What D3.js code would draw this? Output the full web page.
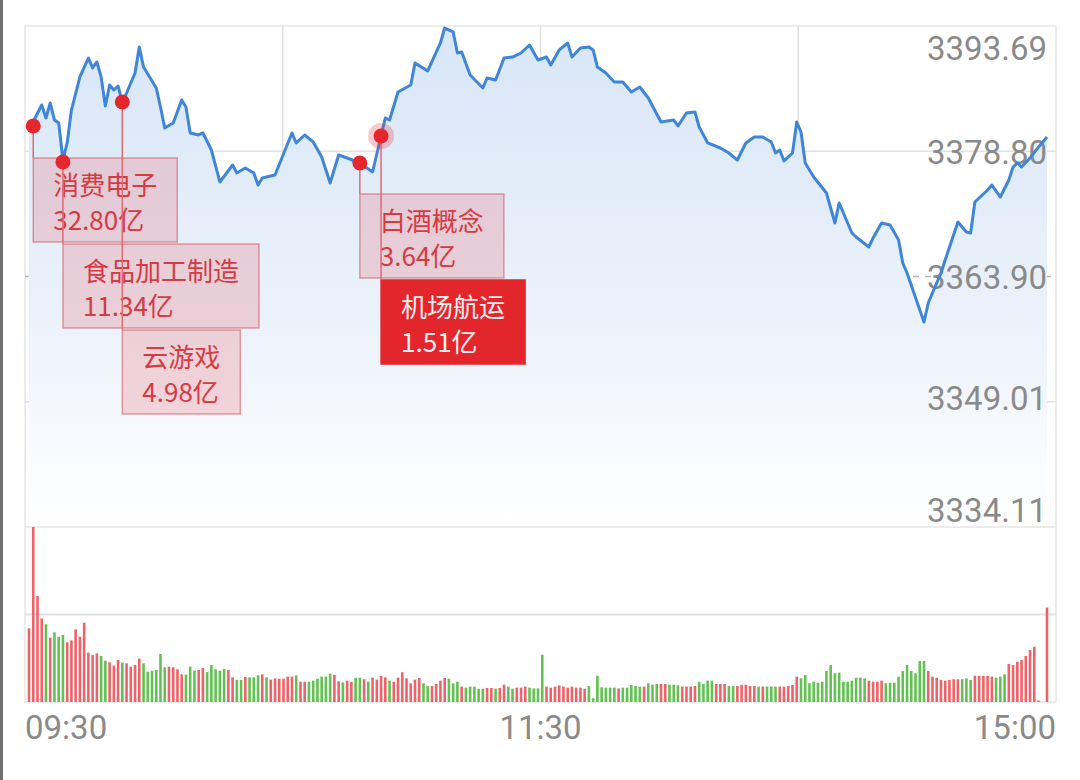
<!DOCTYPE html>
<html>
<head>
<meta charset="utf-8">
<script src="https://cdn.jsdelivr.net/npm/d3@7"></script>
<style>
  html, body { margin: 0; padding: 0; background: #fff; }
  svg { display: block; }
</style>
</head>
<body>
<svg id="chart" width="1080" height="780"></svg>
<script>
// price axis ticks (top -> bottom), middle one is previous close
var priceTicks = [3393.69, 3378.80, 3363.90, 3349.01, 3334.11];
var timeLabels = ['09:30', '11:30', '15:00'];

// minute index (0 = 09:30, 240 = 15:00) and index level
var lineMinutes = [0,3,4,5,6,7,8,9,10,12,14,15,16,17,18,19,20,21,22,23,25,26,27,30,31,32,34,36,37,38,
  40,41,43,45,48,49,51,53,54,55,58,62,63,65,67,69,71,73,75,78,81,83,84,85,87,90,91,94,97,98,
  100,101,102,104,107,108,110,112,114,116,118,120,122,123,125,127,128,130,132,133,134,136,138,140,142,144,146,149,152,153,
  155,157,158,160,163,165,167,169,171,173,175,176,177,178,180,181,182,183,185,188,190,191,192,194,195,198,199,201,203,205,
  206,207,211,212,215,216,219,221,222,223,226,227,229,231,232,233,234,236,238,240];
var linePrices = [3381.32,3384.30,3382.75,3384.53,3382.51,3382.15,3377.75,3379.78,3383.70,3387.63,3389.88,3388.70,3389.41,3387.63,3384.18,3386.67,3386.08,3386.55,3384.65,3385.72,3388.10,3391.19,3388.81,3386.32,3384.06,3381.56,3382.15,3384.89,3384.06,3380.97,
  3380.73,3380.97,3378.94,3375.14,3377.16,3376.21,3376.80,3376.21,3374.78,3375.61,3375.97,3380.97,3379.78,3380.73,3379.90,3378.11,3375.02,3378.35,3377.99,3377.40,3376.33,3380.61,3382.75,3382.51,3385.84,3386.67,3389.29,3388.34,3391.67,3393.45,
  3392.98,3390.48,3390.60,3387.86,3386.32,3387.51,3387.27,3389.88,3390.00,3390.48,3391.43,3389.65,3390.00,3389.05,3390.84,3391.67,3390.00,3391.07,3391.19,3390.84,3388.81,3388.10,3387.03,3387.03,3385.84,3386.44,3385.13,3382.27,3382.51,3381.80,
  3383.34,3383.46,3381.68,3379.78,3379.18,3378.59,3377.75,3379.78,3380.49,3380.49,3379.90,3378.59,3378.94,3377.64,3378.59,3382.27,3381.08,3377.40,3375.73,3373.83,3370.26,3372.64,3371.45,3369.07,3368.60,3367.41,3368.48,3370.26,3370.02,3368.24,
  3365.51,3364.32,3358.49,3360.75,3364.32,3365.86,3370.38,3369.19,3369.07,3372.76,3374.19,3374.78,3373.35,3375.38,3376.92,3377.40,3376.92,3377.99,3379.30,3380.49];

// per-minute volume (relative units) and direction (1 = up/red, 0 = down/green)
var volumes = [
  42.1,100,60.6,47.8,44.4,36.8,39.8,37.3,38.3,34.1,
  35.2,41.5,37.3,45.3,28.2,26.9,27.8,26.3,23.6,22.7,
  20.8,24.0,22.5,22.1,20.2,21.1,24.8,22.1,17.3,17.9,
  18.3,27.4,19.8,20.2,19.8,18.7,15.8,15.6,20.2,17.9,
  18.3,19.4,17.1,21.1,18.7,17.9,18.9,18.3,14.1,12.6,
  12.6,14.3,14.1,14.1,15.2,15.8,14.1,12.8,13.5,13.3,
  13.3,
  14.5,14.5,15.2,11.6,11.6,11.6,12.2,13.3,14.5,14.5,
  16.2,15.6,11.8,11.2,12.2,11.6,13.9,13.9,13.0,11.6,
  13.9,12.8,14.9,14.1,12.2,11.6,13.9,17.0,13.5,10.7,
  12.8,13.7,10.7,9.1,9.1,10.3,12.2,13.7,13.3,10.7,
  11.6,8.8,8.2,8.8,8.8,7.6,7.6,8.0,8.0,7.6,
  8.0,9.9,8.8,7.6,8.2,8.2,8.8,8.2,7.8,7.8,
  27.0,
  8.8,8.2,8.8,9.5,8.8,8.2,8.8,8.2,8.2,
  7.6,9.1,2.1,15.0,8.4,8.2,8.2,8.2,7.8,8.2,
  8.2,9.7,9.1,8.8,8.8,10.7,9.9,10.3,10.3,10.3,
  9.9,9.9,9.5,8.8,8.8,8.8,9.1,11.6,10.3,12.2,
  12.2,10.3,10.3,10.3,9.1,9.1,9.1,9.9,9.9,9.1,
  9.1,8.8,8.8,8.8,8.8,8.8,8.8,8.8,9.1,9.7,
  14.5,
  13.5,15.4,10.7,11.6,11.0,11.6,17.7,21.1,
  16.4,16.8,11.6,11.6,12.2,13.9,13.9,13.5,12.2,11.6,
  11.6,12.2,10.7,11.0,11.0,14.5,17.7,21.1,17.7,16.4,
  23.4,23.4,17.7,14.5,13.9,12.6,12.2,12.6,13.0,13.0,
  13.0,13.5,12.6,15.0,15.0,15.0,15.0,14.5,13.9,14.5,
  15.8,21.7,21.1,23.0,24.0,26.3,29.7,31.6,0.8,0,
  54.0];
var volumeUp = [
  1,1,1,1,0,1,0,0,0,1, 1,1,1,1,1,1,1,0,0,1, 1,1,0,1,1,1,1,0,0,0,
  0,0,0,1,1,1,1,0,0,0, 1,1,0,0,0,0,0,1,1,0, 0,1,0,0,0,1,0,1,1,1,
  1,
  1,1,0,1,1,0,0,0,0,0, 0,1,1,0,1,1,0,0,1,0, 1,1,1,1,0,1,1,1,1,1,
  1,1,0,0,1,1,1,1,0,0, 0,1,0,0,0,0,0,1,1,0, 1,1,0,0,1,1,1,0,0,0,
  0,
  1,1,1,1,1,1,1,1,1,
  1,0,0,0,0,0,0,0,1,0, 0,0,0,0,1,0,0,0,1,1, 0,0,0,1,1,1,1,0,0,0,
  0,1,1,1,0,0,1,1,1,1, 1,0,1,0,0,0,1,1,1,1,
  1,
  0,0,0,0,0,0,0,0,
  0,0,0,0,0,0,0,0,1,1, 1,1,0,0,0,0,0,0,0,0, 0,0,1,1,1,1,1,1,1,1,
  0,0,0,1,1,1,1,1,0,0, 0,1,1,1,1,1,1,1,1,1,
  1];

// sector fund-flow markers
var markerNames = ['消费电子', '食品加工制造', '云游戏', '白酒概念', '机场航运'];
var markerAmounts = ['32.80亿', '11.34亿', '4.98亿', '3.64亿', '1.51亿'];
var markerMinutes = [1, 8, 22, 78, 83];
var markerPrices = [3381.80, 3377.52, 3384.65, 3377.40, 3380.61];

// layout
var frame = { left: 25, right: 1056, top: 26, mid: 527, bottom: 702 };
var markerBoxTop = [158, 244, 330, 194, 280];
var activeMarker = 4;

var svg = d3.select('#chart');

var x = d3.scaleLinear().domain([0, 240]).range([29, 1047]);
var y = d3.scaleLinear().domain([priceTicks[4], priceTicks[0]]).range([frame.mid, frame.top]);
var yVol = d3.scaleLinear().domain([0, 100]).range([frame.bottom, frame.mid]);

// screenshot edge
svg.append('rect').attr('x', 0).attr('y', 0).attr('width', 3).attr('height', 780).attr('fill', '#707070');

var defs = svg.append('defs');
var grad = defs.append('linearGradient')
    .attr('id', 'areaFill')
    .attr('gradientUnits', 'userSpaceOnUse')
    .attr('x1', 0).attr('y1', frame.top).attr('x2', 0).attr('y2', frame.mid);
grad.append('stop').attr('offset', '0%').attr('stop-color', '#d8e6f7');
grad.append('stop').attr('offset', '55%').attr('stop-color', '#eaf1fa');
grad.append('stop').attr('offset', '100%').attr('stop-color', '#ffffff');

// grid
var grid = svg.append('g');
grid.append('rect')
    .attr('x', frame.left).attr('y', frame.top)
    .attr('width', frame.right - frame.left).attr('height', frame.bottom - frame.top)
    .attr('fill', 'none').attr('stroke', '#e6e6e6').attr('stroke-width', 1.5);

var data = d3.zip(lineMinutes, linePrices);

// area under the line
svg.append('path')
    .datum(data)
    .attr('fill', 'url(#areaFill)')
    .attr('d', d3.area()
        .x(function(d) { return x(d[0]); })
        .y0(frame.mid)
        .y1(function(d) { return y(d[1]); }));

priceTicks.forEach(function(t, i) {
    if (i === 0 || i === 4) return;
    grid.append('line')
        .attr('x1', frame.left).attr('x2', frame.right)
        .attr('y1', y(t)).attr('y2', y(t))
        .attr('stroke', i === 2 ? '#b8b8b8' : '#e2e2e2')
        .attr('stroke-width', 1.5)
        .attr('stroke-dasharray', i === 2 ? '6,6' : null);
});
[1, 2, 3].forEach(function(q) {
    var gx = frame.left + (frame.right - frame.left) * q / 4;
    grid.append('line')
        .attr('x1', gx).attr('x2', gx)
        .attr('y1', frame.top).attr('y2', frame.mid)
        .attr('stroke', '#e2e2e2').attr('stroke-width', 1.5);
});
svg.append('line')
    .attr('x1', frame.left).attr('x2', frame.right)
    .attr('y1', frame.mid).attr('y2', frame.mid)
    .attr('stroke', '#e6e6e6').attr('stroke-width', 1.5);
svg.append('line')
    .attr('x1', frame.left).attr('x2', frame.right)
    .attr('y1', yVol(50)).attr('y2', yVol(50))
    .attr('stroke', '#e0e0e0').attr('stroke-width', 2);

// price labels
svg.append('g').selectAll('text')
    .data(priceTicks)
    .enter().append('text')
    .attr('x', 1047)
    .attr('y', function(d, i) {
        var off = i === 0 ? 22 : (i === 4 ? -17 : (i === 3 ? -3 : 1));
        return y(d) + off;
    })
    .attr('dominant-baseline', 'central')
    .attr('text-anchor', 'end')
    .attr('font-family', 'Roboto, "Noto Sans", sans-serif')
    .attr('font-size', 33)
    .attr('fill', '#8a8a8a')
    .text(function(d) { return d.toFixed(2); });

// price line
svg.append('path')
    .datum(data)
    .attr('fill', 'none')
    .attr('stroke', '#3f86d8')
    .attr('stroke-width', 3)
    .attr('stroke-linejoin', 'round')
    .attr('d', d3.line()
        .x(function(d) { return x(d[0]); })
        .y(function(d) { return y(d[1]); }));

// volume bars
svg.append('g').selectAll('rect')
    .data(volumes)
    .enter().append('rect')
    .attr('x', function(d, i) { return x(i) - 1.3; })
    .attr('width', 2.6)
    .attr('y', function(d) { return yVol(d); })
    .attr('height', function(d) { return frame.bottom - yVol(d); })
    .attr('fill', function(d, i) { return volumeUp[i] ? '#ef6368' : '#62c152'; });

// time labels
var timeX = [frame.left, (frame.left + frame.right) / 2, frame.right];
var timeAnchor = ['start', 'middle', 'end'];
svg.append('g').selectAll('text')
    .data(timeLabels)
    .enter().append('text')
    .attr('x', function(d, i) { return timeX[i]; })
    .attr('y', 739)
    .attr('text-anchor', function(d, i) { return timeAnchor[i]; })
    .attr('font-family', 'Roboto, "Noto Sans", sans-serif')
    .attr('font-size', 33)
    .attr('fill', '#8a8a8a')
    .text(function(d) { return d; });

// markers
var markers = markerNames.map(function(name, i) {
    return {
        name: name,
        amount: markerAmounts[i],
        cx: x(markerMinutes[i]),
        cy: y(markerPrices[i]),
        top: markerBoxTop[i],
        active: i === activeMarker
    };
});

var boxes = svg.append('g');
markers.forEach(function(m) {
    var g = boxes.append('g');
    var rect = g.append('rect');
    var font = '"Noto Sans CJK SC", "Noto Sans", sans-serif';
    var t1 = g.append('text')
        .attr('x', m.cx + 20).attr('y', m.top + 25)
        .attr('dominant-baseline', 'central')
        .attr('font-family', font).attr('font-size', 26)
        .attr('fill', m.active ? '#fdeeee' : '#d83a42')
        .text(m.name);
    var t2 = g.append('text')
        .attr('x', m.cx + 20).attr('y', m.top + 60)
        .attr('dominant-baseline', 'central')
        .attr('font-family', font).attr('font-size', 26)
        .attr('fill', m.active ? '#fdeeee' : '#d83a42')
        .text(m.amount);
    var w = Math.max(t1.node().getComputedTextLength(), t2.node().getComputedTextLength()) + 40;
    rect.attr('x', m.cx).attr('y', m.top)
        .attr('width', w).attr('height', 84)
        .attr('fill', m.active ? '#e3262c' : 'rgba(228, 70, 80, 0.2)')
        .attr('stroke', m.active ? '#e3262c' : 'rgba(210, 70, 80, 0.5)')
        .attr('stroke-width', 1.5);
});

var pins = svg.append('g');
markers.forEach(function(m) {
    pins.append('line')
        .attr('x1', m.cx).attr('x2', m.cx)
        .attr('y1', m.cy).attr('y2', m.top)
        .attr('stroke', '#de6a72').attr('stroke-width', 1.5);
});
markers.forEach(function(m) {
    if (m.active) {
        pins.append('circle')
            .attr('cx', m.cx).attr('cy', m.cy).attr('r', 13)
            .attr('fill', 'rgba(232, 40, 46, 0.25)');
    }
    pins.append('circle')
        .attr('cx', m.cx).attr('cy', m.cy).attr('r', 7.5)
        .attr('fill', '#e5262d');
});
</script>
</body>
</html>
